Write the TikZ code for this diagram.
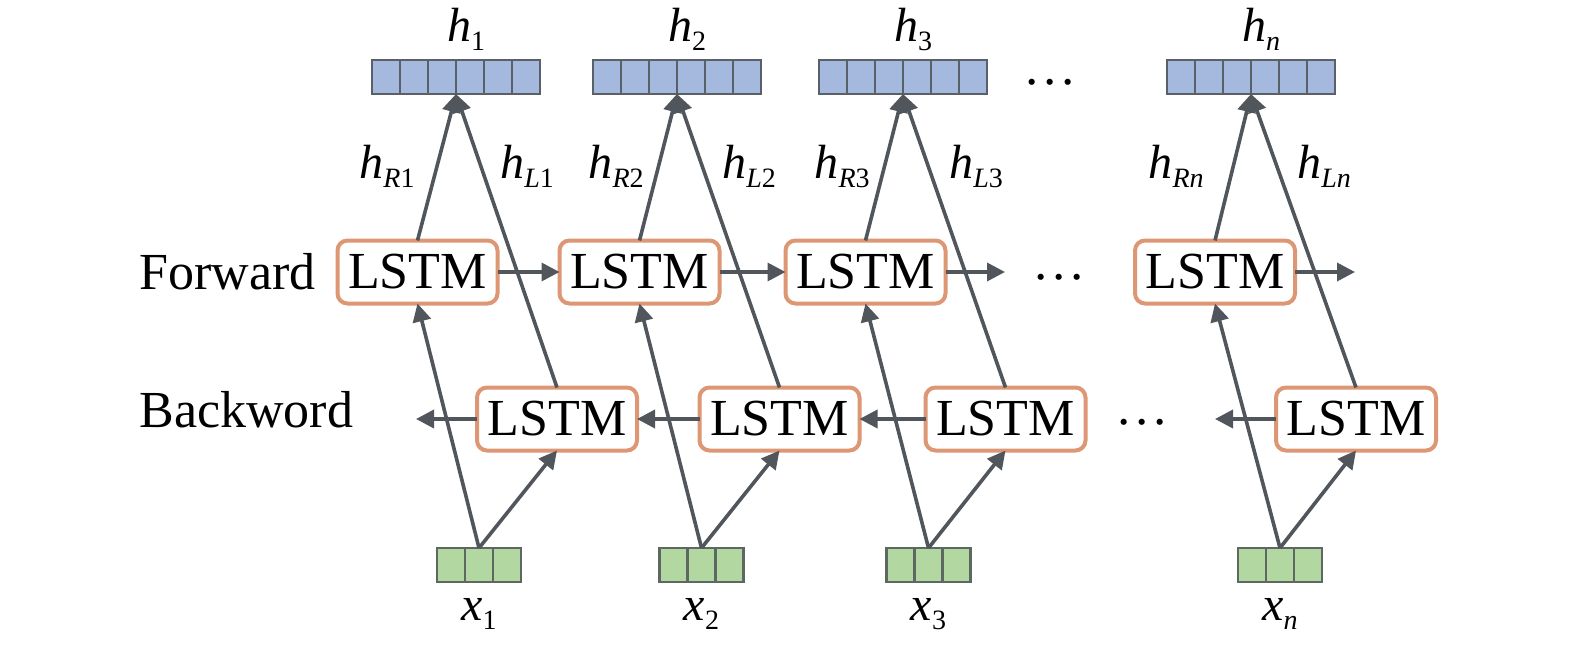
\documentclass[tikz,border=0pt]{standalone}
\usepackage{fontspec}
\setmainfont{Liberation Serif}
\usetikzlibrary{arrows.meta}

\definecolor{arrowgray}{HTML}{50565B}
\definecolor{lstmorange}{HTML}{DD9775}
\definecolor{hblue}{HTML}{A5B8DD}
\definecolor{hedge}{HTML}{59606A}
\definecolor{xgreen}{HTML}{B2D7A0}
\definecolor{xedge}{HTML}{5D6862}

% italic letter with a lowered subscript
\newcommand{\lab}[2]{\textit{#1}\raisebox{-4.5pt}{\fontsize{14}{14}\selectfont #2}}
\newcommand{\middots}{\textperiodcentered\kern0.3pt\textperiodcentered\kern0.3pt\textperiodcentered}

\begin{document}
\begin{tikzpicture}[x=0.5pt,y=-0.5pt,
    lstm/.style={draw=lstmorange, line width=2pt, rounded corners=5pt, fill=white,
      minimum width=80pt, minimum height=31.5pt, inner sep=0pt, outer sep=0pt,
      font=\fontsize{26}{30}\selectfont},
    hvec/.style={draw=hedge, line width=1.2pt, fill=hblue, minimum width=84pt,
      minimum height=17pt, inner sep=0pt, outer sep=0pt},
    xvec/.style={draw=xedge, line width=1.2pt, fill=xgreen, minimum width=42pt,
      minimum height=17pt, inner sep=0pt, outer sep=0pt},
    link/.style={draw=arrowgray, line width=1.8pt, -{Triangle[length=9pt,width=9pt]}},
    lbl/.style={font=\fontsize{24}{28}\selectfont, inner sep=0pt},
    side/.style={font=\fontsize{26}{30}\selectfont, inner sep=0pt}]
    \useasboundingbox (0,0) rectangle (1575,647);

    % one column per time step
    \foreach \i/\s/\hc/\fc/\bc/\xc/\re/\le in {1/1/456/417.5/557/479/415/500,
        2/2/677/639.5/779.5/701.5/644/722, 3/3/903/865.5/1005.5/928.5/870/949,
        4/\textit{n}/1251/1215/1356/1280/1204/1297} {
      \node[hvec] (h\i) at (\hc,77) {};
      \foreach \k in {1,...,5}
        \draw[hedge, line width=1.2pt] ([xshift=\k*14pt]h\i.north west) -- ([xshift=\k*14pt]h\i.south west);
      \node[lbl, anchor=base] (ht\i) at (\hc+10,42) {\lab{h}{\s}};
      \node[lbl, anchor=base east] (hr\i) at (\re,178) {\lab{h}{\textit{R}\s}};
      \node[lbl, anchor=base west] (hl\i) at (\le,178) {\lab{h}{\textit{L}\s}};
      \node[lstm] (fw\i) at (\fc,272) {LSTM};
      \node[lstm] (bw\i) at (\bc,419) {LSTM};
      \node[xvec] (x\i) at (\xc,565) {};
      \foreach \k in {1,2}
        \draw[xedge, line width=1.2pt] ([xshift=\k*14pt]x\i.north west) -- ([xshift=\k*14pt]x\i.south west);
      \node[lbl, anchor=base] (xt\i) at (\xc,620) {\lab{x}{\s}};
    }

    \node[side, anchor=base west] (fwdtxt) at (139,289) {Forward};
    \node[side, anchor=base west] (bwdtxt) at (139,427) {Backword};

    \node[side] (dtop) at (1050,89) {\middots};
    \node[side] (dfw) at (1059,284) {\middots};
    \node[side] (dbw) at (1142,429) {\middots};

    \coordinate (fwout3) at (1005,272);
    \coordinate (fwout4) at (1355,272);
    \coordinate (bwout1) at (416,419);
    \coordinate (bwout4) at (1215,419);

    \foreach \i in {1,...,4} {
      \draw[link] (x\i.north) -- (fw\i.south);
      \draw[link] (x\i.north) -- (bw\i.south);
      \draw[link] (fw\i.north) -- (h\i.south);
      \draw[link] (bw\i.north) -- (h\i.south);
    }

    \draw[link] (fw1.east) -- (fw2.west);
    \draw[link] (fw2.east) -- (fw3.west);
    \draw[link] (fw3.east) -- (fwout3);
    \draw[link] (fw4.east) -- (fwout4);
    \draw[link] (bw2.west) -- (bw1.east);
    \draw[link] (bw3.west) -- (bw2.east);
    \draw[link] (bw1.west) -- (bwout1);
    \draw[link] (bw4.west) -- (bwout4);
\end{tikzpicture}
\end{document}
